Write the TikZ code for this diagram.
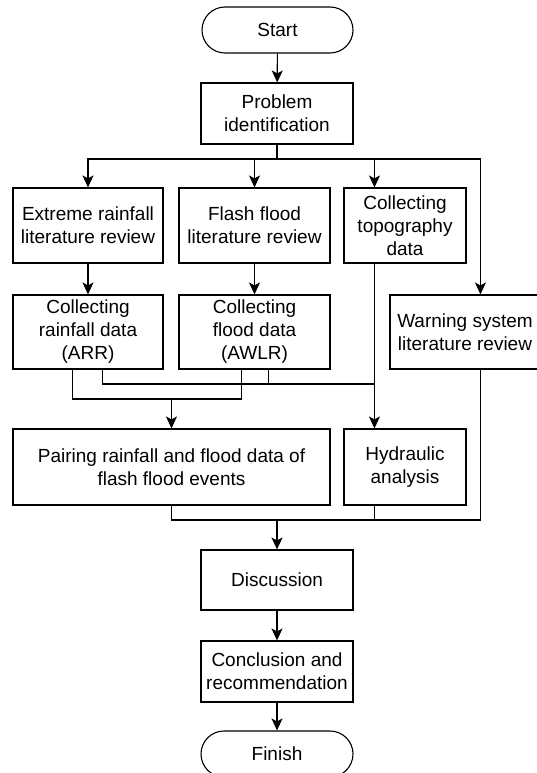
\documentclass[tikz,border=0pt]{standalone}
\usepackage{fontspec}
\setmainfont{Liberation Sans}
\usepackage{tikz}
\usetikzlibrary{
    arrows.meta
}

\begin{document}
\begin{tikzpicture}[x=1pt,y=-1pt,>={Stealth[length=12pt,width=11pt,inset=3pt]},line width=1.1pt]
    \tikzstyle{box}=[draw, rectangle, align=center, inner sep=0pt, font=\fontsize{19}{23}\selectfont]
    \tikzstyle{term}=[box, rounded corners=23pt]
    \clip (0,0) rectangle (537,773);

	\node[term, minimum width=151, minimum height=46] (start) at (277.5, 30) {Start};
	\node[box, minimum width=152, minimum height=61] (prob) at (277, 113.5) {Problem\\ identification};

	\node[box, minimum width=150, minimum height=75] (extr) at (88, 225.5) {Extreme rainfall\\ literature review};
	\node[box, minimum width=151, minimum height=75] (flash) at (254.5, 225.5) {Flash flood\\ literature review};
	\node[box, minimum width=122, minimum height=75] (topo) at (405, 225.5) {Collecting\\ topography\\ data};

	\node[box, minimum width=150, minimum height=74] (rain) at (88, 332) {Collecting\\ rainfall data\\ (ARR)};
	\node[box, minimum width=151, minimum height=74] (flood) at (254.5, 332) {Collecting\\ flood data\\ (AWLR)};
	\node[box, minimum width=150, minimum height=74] (warn) at (465, 332) {Warning system\\ literature review};

	\node[box, minimum width=317, minimum height=76] (pair) at (171.5, 467) {Pairing rainfall and flood data of\\ flash flood events};
	\node[box, minimum width=122, minimum height=76] (hydr) at (405, 467) {Hydraulic\\ analysis};

	\node[box, minimum width=152, minimum height=60] (disc) at (277, 580) {Discussion};
	\node[box, minimum width=152, minimum height=61] (concl) at (277, 671.5) {Conclusion and\\ recommendation};
	\node[term, minimum width=152, minimum height=46] (finish) at (277, 754) {Finish};

	% junctions
	\coordinate (br) at (277, 159);
	\coordinate (jr) at (171.5, 399);
	\coordinate (jt) at (375, 384);
	\coordinate (jm) at (277, 520);
	\coordinate (topoin) at ([xshift=31]topo.north west);
	\coordinate (topoout) at ([xshift=31]topo.south west);
	\coordinate (hydrin) at ([xshift=31]hydr.north west);
	\coordinate (hydrout) at ([xshift=31]hydr.south west);
	\coordinate (warnin) at ([xshift=91]warn.north west);
	\coordinate (warnout) at ([xshift=91]warn.south west);
	\coordinate (rainA) at ([xshift=60]rain.south west);
	\coordinate (rainB) at ([xshift=90]rain.south west);
	\coordinate (floodA) at ([xshift=63]flood.south west);
	\coordinate (floodB) at ([xshift=90]flood.south west);

	\draw [->] (start) -- (prob);
	\draw (prob) -- (br);
	\draw [->] (br) -| (extr);
	\draw [->] (br) -| (flash);
	\draw [->] (br) -| (topoin);
	\draw [->] (br) -| (warnin);

	\draw [->] (extr) -- (rain);
	\draw [->] (flash) -- (flood);

	\draw (rainA) |- (floodA |- jr) -- (floodA);
	\draw (rainB) |- (jt);
	\draw (floodB) -- (floodB |- jt);
	\draw [->] (jr) -- (pair);
	\draw [->] (topoout) -- (hydrin);

	\draw (pair) |- (warnout |- jm) -- (warnout);
	\draw (hydrout) -- (hydrout |- jm);
	\draw [->] (jm) -- (disc);
	\draw [->] (disc) -- (concl);
	\draw [->] (concl) -- (finish);
    \end{tikzpicture}
\end{document}
